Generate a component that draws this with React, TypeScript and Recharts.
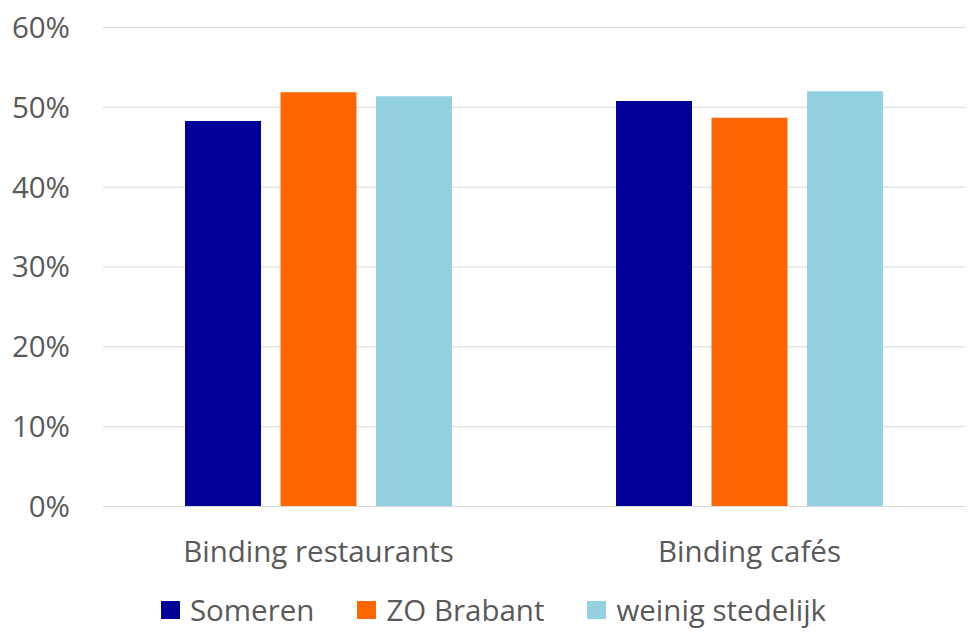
import React from "react";
import { BarChart, Bar, XAxis, YAxis, CartesianGrid, Legend } from "recharts";

const categories = ["Binding restaurants", "Binding cafés"];
const someren = [48.3, 50.8];
const zoBrabant = [51.9, 48.7];
const weinigStedelijk = [51.4, 52.0];
const yTicks = [0, 10, 20, 30, 40, 50, 60];

const seriesNames = ["Someren", "ZO Brabant", "weinig stedelijk"];
const seriesKeys = ["someren", "zo", "weinig"];
const colors = ["#000099", "#FF6600", "#92D0E2"];

const data = categories.map((c, i) => ({
  name: c,
  someren: someren[i],
  zo: zoBrabant[i],
  weinig: weinigStedelijk[i],
}));

const FONT = "'Open Sans', sans-serif";
const TEXT = "#595959";
const FS = 29.5;

const LegendContent = () => (
  <div
    style={{
      height: 59,
      display: "flex",
      alignItems: "center",
      justifyContent: "center",
      fontFamily: FONT,
      fontSize: FS,
      color: TEXT,
      paddingLeft: 22,
      boxSizing: "border-box",
    }}
  >
    {seriesNames.map((n, i) => (
      <div key={n} style={{ display: "flex", alignItems: "center", marginRight: i < 2 ? 43 : 0 }}>
        <div style={{ width: 19, height: 18, background: colors[i], marginRight: 10 }} />
        <span>{n}</span>
      </div>
    ))}
  </div>
);

export default function App() {
  return (
    <div style={{ position: "absolute", left: 0, top: 0, width: 978, height: 639, background: "#fff" }}>
      <BarChart
        width={978}
        height={639}
        data={data}
        margin={{ top: 27.5, right: 13, bottom: 0, left: 0 }}
        barGap={19.5}
        barSize={76}
      >
        <CartesianGrid vertical={false} stroke="#D9D9D9" />
        <XAxis
          dataKey="name"
          axisLine={{ stroke: "#D9D9D9" }}
          tickLine={false}
          tickSize={0}
          tickMargin={35}
          height={73.5}
          tick={{ fill: TEXT, fontSize: FS, fontFamily: FONT }}
        />
        <YAxis
          domain={[0, 60]}
          ticks={yTicks}
          interval={0}
          tickFormatter={(v: number) => `${v}%`}
          axisLine={false}
          tickLine={false}
          tickSize={0}
          tickMargin={33}
          width={103}
          tick={{ fill: TEXT, fontSize: FS, fontFamily: FONT }}
        />
        <Legend verticalAlign="bottom" content={<LegendContent />} />
        {seriesKeys.map((k, i) => (
          <Bar key={k} dataKey={k} name={seriesNames[i]} fill={colors[i]} isAnimationActive={false} />
        ))}
      </BarChart>
    </div>
  );
}
